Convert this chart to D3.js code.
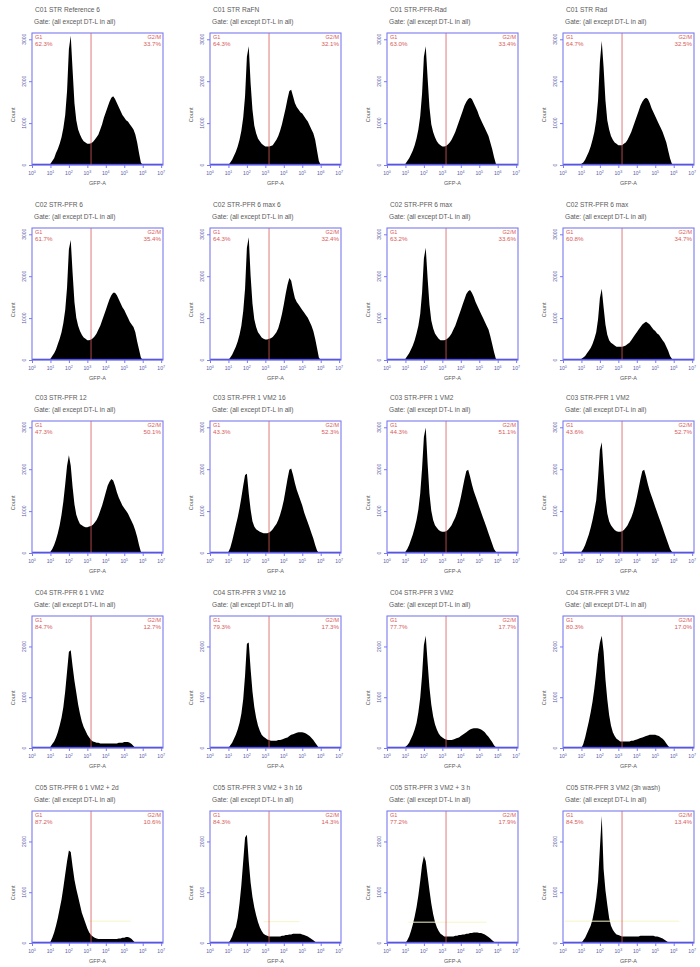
<!DOCTYPE html>
<html><head><meta charset="utf-8">
<script src="https://cdn.jsdelivr.net/npm/d3@7"></script>
<style>body{margin:0;background:#fff}svg{display:block}text{font-family:"Liberation Sans",Arial,sans-serif}</style>
</head><body>
<svg id="chart" width="700" height="967"></svg>
<script>
// GFP-A bin centres (log10 units)
const gfpLog = [1.0,1.1,1.2,1.3,1.4,1.5,1.6,1.7,1.8,1.9,2.0,2.1,2.2,2.3,2.4,2.5,2.6,2.7,2.8,2.9,3.0,3.1,3.2,3.3,3.4,3.5,3.6,3.7,3.8,3.9,4.0,4.1,4.2,4.3,4.4,4.5,4.6,4.7,4.8,4.9,5.0,5.1,5.2,5.3,5.4,5.5,5.6,5.7,5.8,5.9,6.0];

// Sample names (first title line)
const sampleNames = [
  "C01 STR Reference 6","C01 STR RaFN","C01 STR-PFR-Rad","C01 STR Rad",
  "C02 STR-PFR 6","C02 STR-PFR 6 max 6","C02 STR-PFR 6 max","C02 STR-PFR 6 max",
  "C03 STR-PFR 12","C03 STR-PFR 1 VM2 16","C03 STR-PFR 1 VM2","C03 STR-PFR 1 VM2",
  "C04 STR-PFR 6 1 VM2","C04 STR-PFR 3 VM2 16","C04 STR-PFR 3 VM2","C04 STR-PFR 3 VM2",
  "C05 STR-PFR 6 1 VM2 + 2d","C05 STR-PFR 3 VM2 + 3 h 16","C05 STR-PFR 3 VM2 + 3 h","C05 STR-PFR 3 VM2 (3h wash)"
];
const gateLine = "Gate: (all except DT-L in all)";
const leftGateName = "G1";
const rightGateName = "G2/M";
const leftPct  = ["62.3%","64.3%","63.0%","64.7%","61.7%","64.3%","63.2%","60.8%","47.3%","43.3%","44.3%","43.6%","84.7%","79.3%","77.7%","80.3%","87.2%","84.3%","77.2%","84.5%"];
const rightPct = ["33.7%","32.1%","33.4%","32.5%","35.4%","32.4%","33.6%","34.7%","50.1%","52.3%","51.1%","52.7%","12.7%","17.3%","17.7%","17.0%","10.6%","14.3%","17.9%","13.4%"];

// Count axis maximum per panel
const countMax = [3150,3150,3150,3150,3150,3150,3150,3150,3150,3150,3150,3150,2600,2600,2600,2600,2600,2600,2600,2600];
const countTicks = [0,1000,2000,3000];
const gfpTicks = [0,1,2,3,4,5,6,7];
const gateLog = 3.2;

// Histogram counts per sample
const c01a = [30,95,160,285,380,505,660,880,1195,1765,2770,3085,2270,1480,1070,850,725,630,565,535,505,505,520,550,600,660,725,850,975,1135,1260,1385,1510,1605,1640,1575,1480,1385,1290,1195,1135,1070,1040,975,915,850,725,535,285,60,0];
const c01b = [0,60,125,220,315,440,600,820,1135,1640,2585,2835,1955,1325,945,755,630,565,505,470,440,440,440,455,470,535,600,695,820,975,1165,1355,1575,1765,1795,1640,1480,1385,1325,1260,1230,1165,1100,1040,945,850,755,600,345,95,0];
const c01c = [30,95,160,250,345,470,630,850,1165,1700,2585,2835,2080,1385,975,790,660,565,505,470,440,440,455,490,535,600,695,790,915,1040,1165,1290,1420,1510,1575,1605,1575,1480,1385,1290,1165,1070,975,880,790,695,535,380,190,30,0];
const c01d = [30,60,125,220,315,440,600,790,1070,1545,2455,2960,2330,1545,1070,850,695,600,535,505,470,470,470,505,535,600,695,790,915,1040,1165,1290,1420,1510,1575,1605,1575,1480,1355,1260,1165,1070,975,880,790,660,535,345,160,30,0];
const c02a = [30,95,160,250,380,505,660,880,1195,1730,2645,2865,2080,1385,1010,820,695,600,535,505,470,470,490,520,565,630,725,820,945,1070,1195,1325,1450,1545,1605,1605,1545,1450,1355,1260,1195,1100,1010,915,850,790,660,440,250,60,0];
const c02b = [0,60,125,220,315,440,600,820,1165,1700,2680,2930,2015,1355,975,790,660,600,535,505,490,490,505,520,550,600,660,755,915,1100,1325,1575,1795,1955,1890,1670,1480,1385,1325,1260,1195,1135,1070,1010,915,820,695,505,285,60,0];
const c02c = [30,95,160,250,345,470,630,820,1100,1605,2425,2680,1955,1325,945,755,630,565,505,470,470,470,490,520,565,630,725,820,945,1070,1195,1325,1450,1575,1640,1670,1605,1510,1385,1290,1195,1100,1010,915,820,725,565,380,190,30,0];
const c02d = [30,60,95,160,220,285,380,505,660,975,1480,1700,1260,850,600,470,410,380,345,315,315,315,315,330,345,380,410,470,535,600,660,725,790,850,880,915,880,850,790,725,695,630,600,535,470,410,315,220,95,30,0];
const c03a = [30,95,190,315,470,660,915,1230,1640,2080,2330,2080,1575,1165,915,790,695,660,630,615,615,630,645,675,725,790,880,1010,1135,1290,1450,1605,1700,1765,1730,1605,1450,1325,1230,1135,1070,1010,945,850,755,660,535,380,190,30,0];
const c03b = [30,125,285,470,660,850,1070,1325,1605,1860,1890,1420,1040,755,630,565,535,505,490,470,470,470,490,520,565,630,695,790,915,1070,1260,1510,1765,1985,2015,1860,1670,1510,1385,1260,1135,975,850,725,600,470,345,190,60,0,0];
const c03c = [30,95,190,315,440,600,790,1040,1420,2015,2770,2995,2140,1420,1010,790,660,600,550,520,505,505,520,550,600,660,755,850,975,1135,1325,1545,1765,1955,1985,1825,1640,1480,1355,1230,1100,975,850,725,600,470,345,220,95,30,0];
const c03d = [30,95,190,315,440,600,790,1010,1260,1795,2455,2645,1955,1325,945,755,660,600,550,520,505,505,520,550,600,660,755,850,975,1135,1325,1545,1765,1955,1985,1825,1640,1480,1355,1230,1100,975,850,725,600,470,345,220,95,30,0];
const c04a = [26,78,130,208,312,442,598,806,1118,1508,1898,1924,1612,1326,1092,858,676,520,416,338,260,208,156,130,117,104,104,91,91,91,91,91,91,91,91,91,91,104,104,104,117,117,117,104,78,39,0,0,0,0,0];
const c04b = [0,52,104,182,260,364,494,676,962,1430,2054,2080,1560,1118,806,598,442,338,260,221,195,169,156,143,143,143,143,156,156,169,182,195,208,234,260,273,286,299,312,312,312,299,286,260,234,195,156,104,52,0,0];
const c04c = [26,52,104,182,260,364,494,702,988,1430,2028,2210,1690,1196,858,624,468,364,286,234,208,182,169,156,156,156,169,182,195,208,234,260,286,312,338,364,377,390,390,390,377,364,338,312,260,221,169,117,52,13,0];
const c04d = [0,78,208,364,520,702,910,1170,1482,1846,2080,2210,1898,1352,962,650,442,312,234,182,156,130,130,130,130,130,130,143,143,156,169,182,195,208,221,234,247,260,260,260,260,247,234,208,182,143,91,39,0,0,0];
const c05a = [26,104,208,338,494,676,858,1092,1352,1612,1820,1794,1508,1248,1066,910,754,598,494,390,286,208,156,130,104,91,78,78,78,78,78,78,78,78,78,78,78,91,91,104,104,117,117,104,78,39,0,0,0,0,0];
const c05b = [0,52,130,234,312,494,780,1144,1612,2080,2132,1612,1196,910,702,546,416,312,234,182,156,143,130,130,130,130,130,130,130,143,143,156,156,169,169,182,182,182,182,182,169,156,143,130,104,78,52,26,0,0,0];
const c05c = [0,52,130,234,364,520,702,936,1222,1534,1716,1612,1326,1040,780,572,416,312,234,182,156,130,130,130,130,130,130,143,143,156,156,169,169,182,182,195,195,208,208,208,195,195,182,169,143,117,91,52,26,0,0];
const c05d = [0,52,104,182,260,338,468,650,884,1222,1872,2500,1456,1040,754,494,338,260,208,169,156,143,130,130,130,130,130,130,130,130,130,130,143,143,143,143,143,143,143,143,130,130,117,104,91,65,39,13,0,0,0];
const panelCounts = [c01a,c01b,c01c,c01d,c02a,c02b,c02c,c02d,c03a,c03b,c03c,c03d,c04a,c04b,c04c,c04d,c05a,c05b,c05c,c05d];

// Marker bars shown on the last row: [from log, to log, count level]
const markerFrom = [3.05,2.9,1.15,0.1];
const markerTo   = [5.35,4.85,5.4,6.3];
const markerLevel = [430,420,410,430];

// ---- layout ----
const colX = [32, 210, 387, 563];
const rowY = [33, 228, 421, 616, 811];
const W = 131, H = 132;
const frameCol = "#7a7aee", gateCol = "#d85a5a", textCol = "#5a5a5a", tickText = "#5a5aa8";

const svg = d3.select("#chart");

panelCounts.forEach((counts, i) => {
  const r = Math.floor(i / 4), c = i % 4;
  const left = colX[c], top = rowY[r];
  const g = svg.append("g").attr("transform", `translate(${left},${top})`);
  const x = d3.scaleLinear().domain([0, 7.1]).range([0, W]);
  const y = d3.scaleLinear().domain([0, countMax[i]]).range([H, 0]);

  // titles
  g.append("text").attr("x", 3).attr("y", -21).attr("font-size", 6.6).attr("fill", textCol).text(sampleNames[i]);
  g.append("text").attr("x", 2).attr("y", -9).attr("font-size", 6.6).attr("fill", textCol).text(gateLine);

  // histogram
  const area = d3.area().x((d, k) => x(gfpLog[k])).y0(y(0)).y1(d => y(d));
  g.append("path").datum(counts).attr("d", area).attr("fill", "#000");

  // baseline trace
  g.append("line").attr("x1", 0).attr("x2", W).attr("y1", y(0) - 0.5).attr("y2", y(0) - 0.5)
    .attr("stroke", "#2a2ad0").attr("stroke-width", 1.6);

  // marker bars on last row
  if (r === 4) {
    g.append("line").attr("x1", x(markerFrom[c])).attr("x2", Math.min(W, x(markerTo[c])))
      .attr("y1", y(markerLevel[c])).attr("y2", y(markerLevel[c]))
      .attr("stroke", "#f7f4c8").attr("stroke-width", 1);
  }

  // gate divider
  g.append("line").attr("x1", x(gateLog)).attr("x2", x(gateLog)).attr("y1", 0).attr("y2", H)
    .attr("stroke", gateCol).attr("stroke-width", 0.8);

  // frame
  g.append("rect").attr("width", W).attr("height", H).attr("fill", "none")
    .attr("stroke", frameCol).attr("stroke-width", 1.1);

  // gate labels
  g.append("text").attr("x", 3).attr("y", 6).attr("font-size", 5.5).attr("fill", gateCol).text(leftGateName);
  g.append("text").attr("x", 3).attr("y", 13).attr("font-size", 6.2).attr("fill", gateCol).text(leftPct[i]);
  g.append("text").attr("x", W - 2).attr("y", 6).attr("font-size", 5.5).attr("text-anchor", "end").attr("fill", gateCol).text(rightGateName);
  g.append("text").attr("x", W - 2).attr("y", 13).attr("font-size", 6.2).attr("text-anchor", "end").attr("fill", gateCol).text(rightPct[i]);

  // x axis
  const xa = g.append("g").attr("transform", `translate(0,${H})`)
    .call(d3.axisBottom(x).tickValues(gfpTicks).tickSize(3).tickFormat(""));
  xa.select(".domain").remove();
  xa.selectAll("line").attr("stroke", frameCol);
  gfpTicks.forEach(t => {
    const tx = g.append("text").attr("x", x(t)).attr("y", H + 10).attr("font-size", 5)
      .attr("text-anchor", "middle").attr("fill", tickText).text("10");
    tx.append("tspan").attr("dy", -2).attr("font-size", 3.6).text(t);
  });
  g.append("text").attr("x", W / 2).attr("y", H + 20).attr("font-size", 5.5)
    .attr("text-anchor", "middle").attr("fill", textCol).text("GFP-A");

  // y axis
  const yt = countTicks.filter(t => t <= countMax[i]);
  const ya = g.append("g").call(d3.axisLeft(y).tickValues(yt).tickSize(3).tickFormat(""));
  ya.select(".domain").remove();
  ya.selectAll("line").attr("stroke", frameCol);
  yt.forEach(t => {
    g.append("text").attr("transform", `translate(-6,${y(t)}) rotate(-90)`)
      .attr("font-size", 5).attr("text-anchor", "middle").attr("fill", tickText).text(t);
  });
  g.append("text").attr("transform", `translate(-17,${H * 0.62}) rotate(-90)`)
    .attr("font-size", 5.5).attr("text-anchor", "middle").attr("fill", textCol).text("Count");
});
</script>
</body></html>
